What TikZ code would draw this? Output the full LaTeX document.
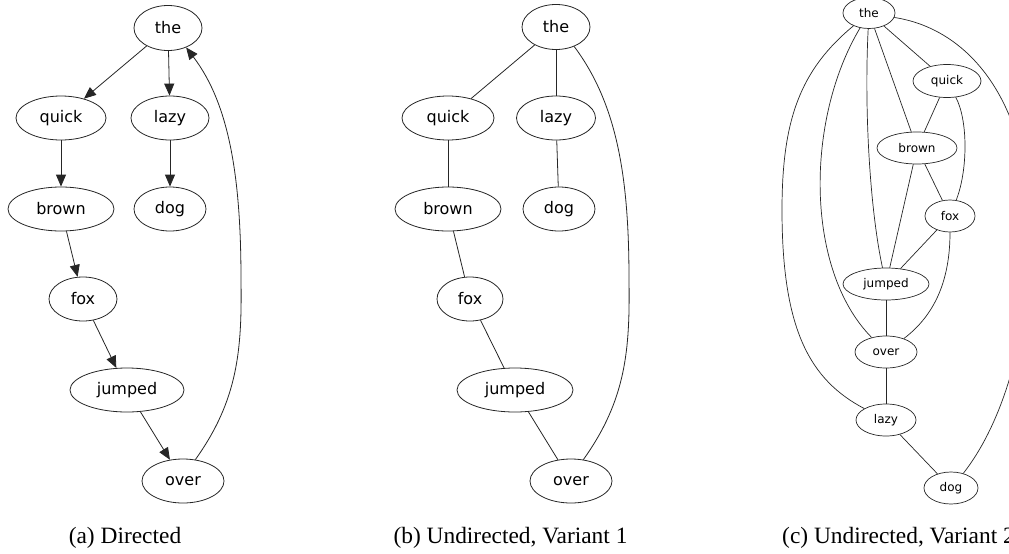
\documentclass[tikz,border=0pt]{standalone}
\usepackage{fontspec}
\setmainfont{Liberation Serif}
\newfontfamily\nodefont{DejaVu Sans}
\usetikzlibrary{shapes.geometric,arrows.meta}
\begin{document}
\begin{tikzpicture}[x=1pt,y=-1pt,
  lbl/.style={ellipse,draw=black!85,line width=0.8pt,inner sep=0pt,minimum height=44,font=\nodefont\fontsize{16}{16}\selectfont},
  lblc/.style={ellipse,draw=black!85,line width=0.7pt,inner sep=0pt,minimum height=32,font=\nodefont\fontsize{12}{12}\selectfont},
  edge/.style={draw=black!85,line width=0.8pt},
  edgec/.style={draw=black!85,line width=0.7pt},
  arr/.style={edge,-{Triangle[length=12pt,width=10pt]}},
  captxt/.style={font=\fontsize{23.4}{28}\selectfont,inner sep=0pt}]
\useasboundingbox (0,0) rectangle (1009,554);

% ---------- (a) Directed ----------
\node[lbl,minimum width=68,minimum height=45] (a-the) at (168,28) {the};
\node[lbl,minimum width=90] (a-quick) at (61,118) {quick};
\node[lbl,minimum width=78] (a-lazy) at (170,118) {lazy};
\node[lbl,minimum width=106] (a-brown) at (61,209) {brown};
\node[lbl,minimum width=72] (a-dog) at (170,209) {dog};
\node[lbl,minimum width=68] (a-fox) at (83,299) {fox};
\node[lbl,minimum width=114] (a-jumped) at (127,390) {jumped};
\node[lbl,minimum width=82] (a-over) at (183,481) {over};

\draw[arr] (a-the) -- (a-quick);
\draw[arr] (a-the) -- (a-lazy);
\draw[arr] (a-quick) -- (a-brown);
\draw[arr] (a-lazy) -- (a-dog);
\draw[arr] (a-brown) -- (a-fox);
\draw[arr] (a-fox) -- (a-jumped);
\draw[arr] (a-jumped) -- (a-over);
\draw[arr] (a-over.60) .. controls (238,400) and (242,350) .. (241,280)
  .. controls (241,180) and (230,105) .. (a-the.-47);

\node[captxt,anchor=base] (a-cap) at (125,543) {(a) Directed};

% ---------- (b) Undirected, Variant 1 ----------
\node[lbl,minimum width=68,minimum height=45] (b-the) at (556,27) {the};
\node[lbl,minimum width=92] (b-quick) at (448,118) {quick};
\node[lbl,minimum width=79] (b-lazy) at (556,118) {lazy};
\node[lbl,minimum width=106] (b-brown) at (448,209) {brown};
\node[lbl,minimum width=72] (b-dog) at (559,209) {dog};
\node[lbl,minimum width=66] (b-fox) at (470,299) {fox};
\node[lbl,minimum width=116] (b-jumped) at (515,390) {jumped};
\node[lbl,minimum width=82] (b-over) at (571,481) {over};

\draw[edge] (b-the) -- (b-quick);
\draw[edge] (b-the) -- (b-lazy);
\draw[edge] (b-quick) -- (b-brown);
\draw[edge] (b-lazy) -- (b-dog);
\draw[edge] (b-brown) -- (b-fox);
\draw[edge] (b-fox) -- (b-jumped);
\draw[edge] (b-jumped) -- (b-over);
\draw[edge] (b-over.60) .. controls (626,400) and (630,350) .. (629,280)
  .. controls (629,180) and (618,105) .. (b-the.-47);

\node[captxt,anchor=base] (b-cap) at (510.5,543) {(b) Undirected, Variant 1};

% ---------- (c) Undirected, Variant 2 ----------
\node[lblc,minimum width=52,minimum height=31] (c-the) at (869,13) {the};
\node[lblc,minimum width=68,minimum height=33] (c-quick) at (947,81) {quick};
\node[lblc,minimum width=80] (c-brown) at (917,148) {brown};
\node[lblc,minimum width=50] (c-fox) at (950,216) {fox};
\node[lblc,minimum width=86] (c-jumped) at (886,284) {jumped};
\node[lblc,minimum width=62] (c-over) at (886,352) {over};
\node[lblc,minimum width=60] (c-lazy) at (886,420) {lazy};
\node[lblc,minimum width=54] (c-dog) at (951,488) {dog};

\draw[edgec] (c-the) -- (c-quick);
\draw[edgec] (c-the) -- (c-brown);
\draw[edgec] (c-the) .. controls (864,110) and (870,210) .. (c-jumped);
\draw[edgec] (c-the) .. controls (805,120) and (805,270) .. (c-over);
\draw[edgec] (c-the) .. controls (800,70) and (782,120) .. (782,210)
  .. controls (782,330) and (810,380) .. (c-lazy);
\draw[edgec] (c-the.-10) .. controls (975,30) and (1030,110) .. (1030,230)
  .. controls (1030,330) and (1005,420) .. (c-dog.50);
\draw[edgec] (c-quick) -- (c-brown);
\draw[edgec] (c-quick) .. controls (968,120) and (968,170) .. (c-fox);
\draw[edgec] (c-brown) -- (c-fox);
\draw[edgec] (c-brown) -- (c-jumped);
\draw[edgec] (c-fox) -- (c-jumped);
\draw[edgec] (c-fox) .. controls (950,280) and (935,315) .. (c-over);
\draw[edgec] (c-jumped) -- (c-over);
\draw[edgec] (c-over) -- (c-lazy);
\draw[edgec] (c-lazy) -- (c-dog);

\node[captxt,anchor=base west] (c-cap) at (782,543) {(c) Undirected, Variant 2};
\end{tikzpicture}
\end{document}
